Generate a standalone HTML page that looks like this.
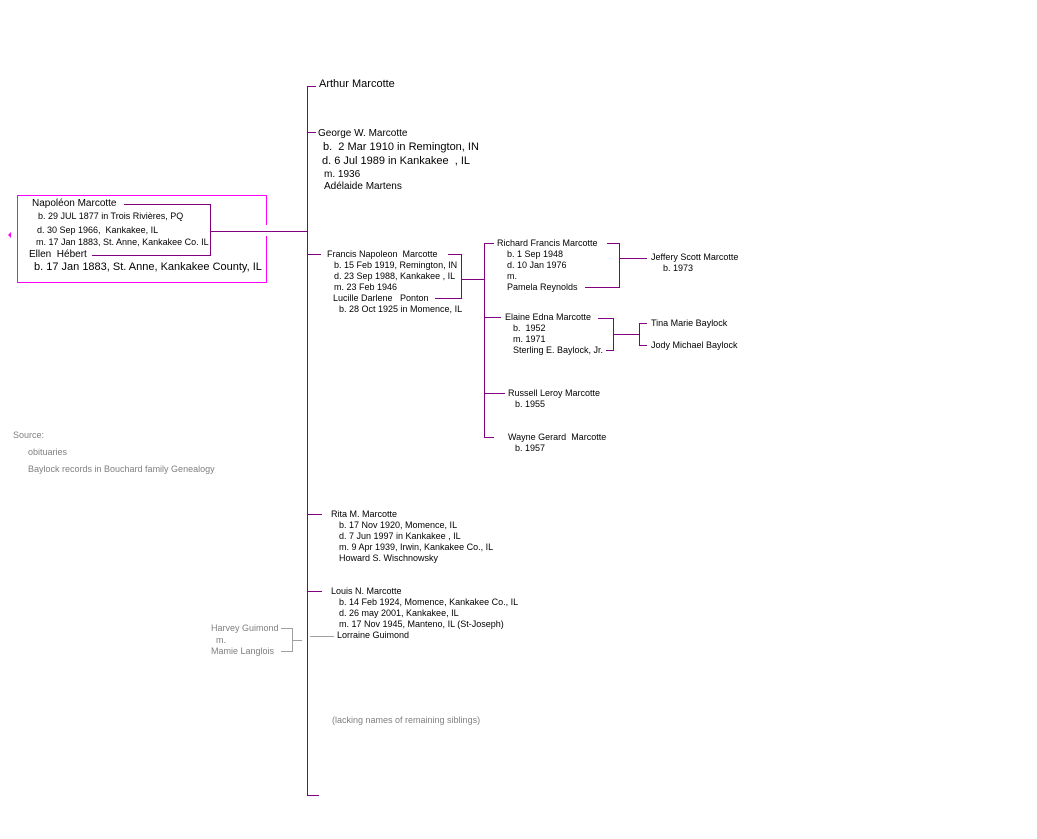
<!DOCTYPE html>
<html><head><meta charset="utf-8"><style>
body{margin:0;width:1037px;height:839px;background:#fff;position:relative;overflow:hidden;font-family:"Liberation Sans",Arial,sans-serif;color:#000}
.t{position:absolute;white-space:nowrap;font-size:9px;line-height:12px}
.m{font-size:10px}.l{font-size:11px}
.g{color:#808080}
svg{position:absolute;left:0;top:0}
</style></head><body>
<svg width="1037" height="839">
<g stroke="#800080" stroke-width="1" fill="none" shape-rendering="crispEdges">
<path d="M307.5 86V795.5H319"/>
<path d="M307.5 86.5H316"/>
<path d="M307.5 132.5H316"/>
<path d="M124 204.5H210.5V255.5H92"/>
<path d="M210.5 231.5H307.5"/>
<path d="M307.5 254.5H321"/>
<path d="M448 254.5H461.5V298.5H435"/>
<path d="M461.5 279.5H484.5"/>
<path d="M484.5 243V437.5H494"/>
<path d="M484.5 243.5H494M484.5 317.5H501M484.5 393.5H505"/>
<path d="M607 243.5H619.5V287.5H585"/>
<path d="M619.5 258.5H647"/>
<path d="M598 318.5H613.5V350.5H606"/>
<path d="M613.5 334.5H639.5"/>
<path d="M647 323.5H639.5V345.5H647"/>
<path d="M307.5 514.5H322M307.5 591.5H322"/>
</g>
<g stroke="#a0a0a0" fill="none" shape-rendering="crispEdges">
<path d="M310 636.5H334"/>
<path d="M281 628.5H292.5V651.5H281"/>
<path d="M292.5 640.5H302"/>
</g>
<g stroke="#ff00ff" fill="none" shape-rendering="crispEdges">
<path d="M266.5 225V195.5H17.5V282.5H266.5V236"/>
</g>
<path d="M8 235L11 232V238Z" fill="#ff00ff"/>
</svg>
<div class="t m" style="left:319px;top:78px;font-size:11px">Arthur Marcotte</div>
<div class="t m" style="left:318px;top:128px">George W. Marcotte</div>
<div class="t l" style="left:323px;top:141px">b.&nbsp; 2 Mar 1910 in Remington, IN</div>
<div class="t l" style="left:322px;top:155px">d. 6 Jul 1989 in Kankakee&nbsp; , IL</div>
<div class="t m" style="left:324px;top:169px">m. 1936</div>
<div class="t m" style="left:324px;top:181px">Adélaide Martens</div>

<div class="t m" style="left:32px;top:198px">Napoléon Marcotte</div>
<div class="t" style="left:38px;top:210px">b. 29 JUL 1877 in Trois Rivières, PQ</div>
<div class="t" style="left:37px;top:224px">d. 30 Sep 1966,&nbsp; Kankakee, IL</div>
<div class="t" style="left:36px;top:236px">m. 17 Jan 1883, St. Anne, Kankakee Co. IL</div>
<div class="t m" style="left:29px;top:249px">Ellen&nbsp; Hébert</div>
<div class="t l" style="left:34px;top:261px">b. 17 Jan 1883, St. Anne, Kankakee County, IL</div>

<div class="t" style="left:327px;top:248px">Francis Napoleon&nbsp; Marcotte</div>
<div class="t" style="left:334px;top:259px">b. 15 Feb 1919, Remington, IN</div>
<div class="t" style="left:334px;top:270px">d. 23 Sep 1988, Kankakee , IL</div>
<div class="t" style="left:334px;top:281px">m. 23 Feb 1946</div>
<div class="t" style="left:333px;top:292px">Lucille Darlene&nbsp;&nbsp; Ponton</div>
<div class="t" style="left:339px;top:303px">b. 28 Oct 1925 in Momence, IL</div>

<div class="t" style="left:497px;top:237px">Richard Francis Marcotte</div>
<div class="t" style="left:507px;top:248px">b. 1 Sep 1948</div>
<div class="t" style="left:507px;top:259px">d. 10 Jan 1976</div>
<div class="t" style="left:507px;top:270px">m.</div>
<div class="t" style="left:507px;top:281px">Pamela Reynolds</div>
<div class="t" style="left:651px;top:251px">Jeffery Scott Marcotte</div>
<div class="t" style="left:663px;top:262px">b. 1973</div>

<div class="t" style="left:505px;top:311px">Elaine Edna Marcotte</div>
<div class="t" style="left:513px;top:322px">b.&nbsp; 1952</div>
<div class="t" style="left:513px;top:333px">m. 1971</div>
<div class="t" style="left:513px;top:344px">Sterling E. Baylock, Jr.</div>
<div class="t" style="left:651px;top:317px">Tina Marie Baylock</div>
<div class="t" style="left:651px;top:339px">Jody Michael Baylock</div>

<div class="t" style="left:508px;top:387px">Russell Leroy Marcotte</div>
<div class="t" style="left:515px;top:398px">b. 1955</div>
<div class="t" style="left:508px;top:431px">Wayne Gerard&nbsp; Marcotte</div>
<div class="t" style="left:515px;top:442px">b. 1957</div>

<div class="t g" style="left:13px;top:429px">Source:</div>
<div class="t g" style="left:28px;top:446px">obituaries</div>
<div class="t g" style="left:28px;top:463px">Baylock records in Bouchard family Genealogy</div>

<div class="t" style="left:331px;top:508px">Rita M. Marcotte</div>
<div class="t" style="left:339px;top:519px">b. 17 Nov 1920, Momence, IL</div>
<div class="t" style="left:339px;top:530px">d. 7 Jun 1997 in Kankakee , IL</div>
<div class="t" style="left:339px;top:541px">m. 9 Apr 1939, Irwin, Kankakee Co., IL</div>
<div class="t" style="left:339px;top:552px">Howard S. Wischnowsky</div>

<div class="t" style="left:331px;top:585px">Louis N. Marcotte</div>
<div class="t" style="left:339px;top:596px">b. 14 Feb 1924, Momence, Kankakee Co., IL</div>
<div class="t" style="left:339px;top:607px">d. 26 may 2001, Kankakee, IL</div>
<div class="t" style="left:339px;top:618px">m. 17 Nov 1945, Manteno, IL (St-Joseph)</div>
<div class="t" style="left:337px;top:629px">Lorraine Guimond</div>

<div class="t g" style="left:211px;top:622px">Harvey Guimond</div>
<div class="t g" style="left:216px;top:634px">m.</div>
<div class="t g" style="left:211px;top:645px">Mamie Langlois</div>

<div class="t g" style="left:332px;top:714px">(lacking names of remaining siblings)</div>
</body></html>
